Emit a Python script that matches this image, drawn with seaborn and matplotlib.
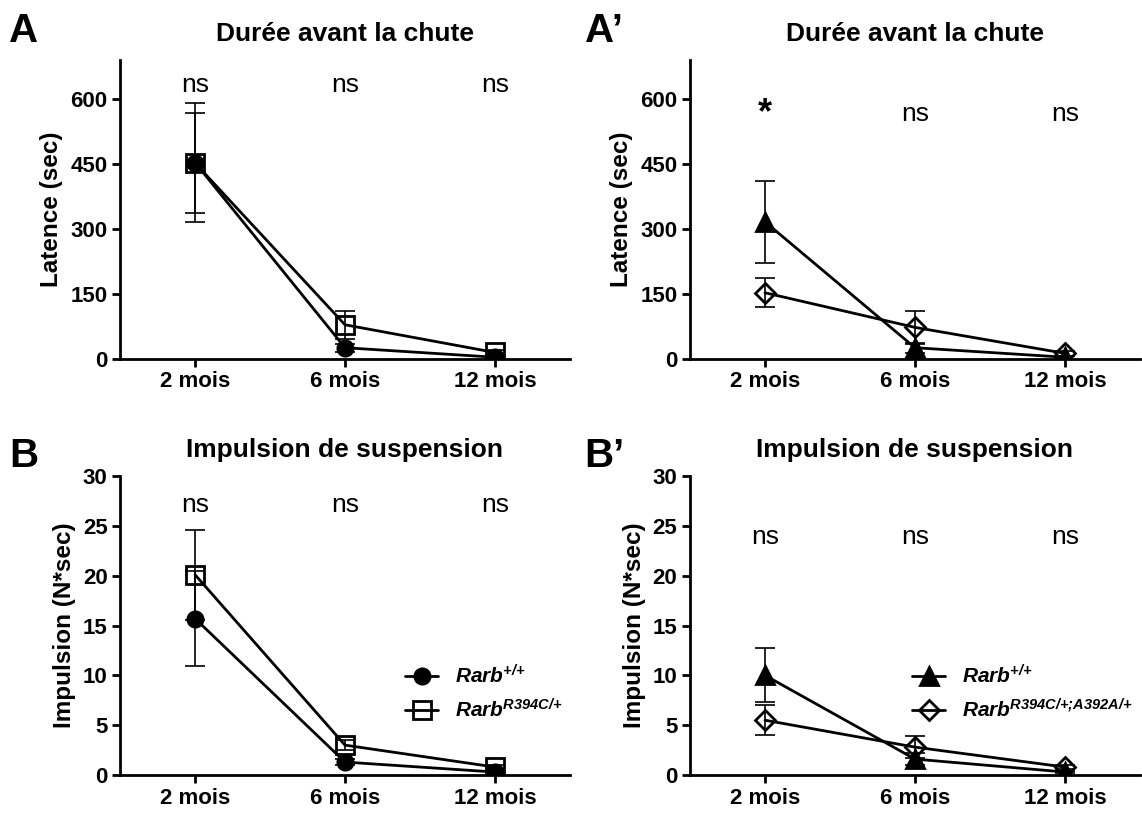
import numpy as np
import pandas as pd
import matplotlib
matplotlib.use("Agg")
import matplotlib.pyplot as plt
import seaborn as sns

# Données (moyenne ± SEM)
mois = ["2 mois", "6 mois", "12 mois"]

a_wt = [453, 25, 3]
a_wt_err = [137, 9, 3]
a_mut = [452, 78, 14]
a_mut_err = [116, 32, 5]

ap_wt = [316, 25, 3]
ap_wt_err = [95, 12, 3]
ap_mut = [152, 72, 12]
ap_mut_err = [33, 38, 5]

b_wt = [15.7, 1.3, 0.3]
b_wt_err = [4.8, 0.3, 0.1]
b_mut = [20.1, 3.0, 0.8]
b_mut_err = [4.5, 0.5, 0.2]

bp_wt = [10.0, 1.6, 0.3]
bp_wt_err = [2.7, 0.6, 0.1]
bp_mut = [5.5, 2.8, 0.8]
bp_mut_err = [1.5, 1.1, 0.2]

sig_a = ["ns", "ns", "ns"]
sig_ap = ["*", "ns", "ns"]
sig_b = ["ns", "ns", "ns"]
sig_bp = ["ns", "ns", "ns"]

lab_wt = r"$\text{Rarb}^{\text{+/+}}$"
lab_mut = r"$\text{Rarb}^{\text{R394C/+}}$"
lab_mut2 = r"$\text{Rarb}^{\text{R394C/+;A392A/+}}$"

sns.set_style("ticks")
plt.rcParams["font.family"] = ["Liberation Sans", "DejaVu Sans"]
plt.rcParams["mathtext.fontset"] = "custom"
plt.rcParams["mathtext.rm"] = "Liberation Sans:italic:bold"
plt.rcParams["mathtext.it"] = "Liberation Sans:italic:bold"
plt.rcParams["mathtext.bf"] = "Liberation Sans:italic:bold"
for k in ["text.color", "axes.labelcolor", "xtick.color", "ytick.color",
          "axes.edgecolor"]:
    plt.rcParams[k] = "black"

fig = plt.figure(figsize=(11.42, 8.13), dpi=100)
ax_a = fig.add_axes([0.1051, 0.559, 0.394, 0.3672])
ax_ap = fig.add_axes([0.6042, 0.559, 0.394, 0.3672])
ax_b = fig.add_axes([0.1051, 0.0467, 0.394, 0.3678])
ax_bp = fig.add_axes([0.6042, 0.0467, 0.394, 0.3678])

x = np.arange(len(mois))


def serie(ax, vals, errs, marker, filled, ms, label):
    df = pd.DataFrame({"x": x, "y": vals})
    ax.errorbar(x, vals, yerr=errs, fmt="none", ecolor="black",
                elinewidth=1.2, capsize=7, capthick=1.2, zorder=2)
    sns.lineplot(data=df, x="x", y="y", ax=ax, color="black", lw=2,
                 marker=marker, markersize=ms, markeredgewidth=2,
                 markeredgecolor="black",
                 markerfacecolor="black" if filled else "none",
                 label=label, zorder=3)


def habillage(ax, ylim, yticks, ylabel, titre, sig, sig_y):
    ax.set_xlim(-0.5, 2.5)
    ax.set_ylim(*ylim)
    ax.set_yticks(yticks)
    ax.set_xticks(x)
    ax.set_xticklabels(mois)
    for lab in ax.get_xticklabels() + ax.get_yticklabels():
        lab.set_fontweight("bold")
        lab.set_fontsize(16)
    ax.set_xlabel("")
    ax.set_ylabel(ylabel, fontsize=17.5, fontweight="bold", labelpad=5)
    ax.set_title(titre, fontsize=19, fontweight="bold", pad=14)
    sns.despine(ax=ax)
    for s in ["left", "bottom"]:
        ax.spines[s].set_linewidth(2)
    ax.tick_params(width=2, length=6, pad=3)
    for i, t in enumerate(sig):
        if t == "*":
            ax.text(x[i], sig_y, t, ha="center", va="center", fontsize=26,
                    fontweight="bold")
        else:
            ax.text(x[i], sig_y, t, ha="center", va="center", fontsize=19)


serie(ax_a, a_wt, a_wt_err, "o", True, 11, lab_wt)
serie(ax_a, a_mut, a_mut_err, "s", False, 13, lab_mut)
habillage(ax_a, (0, 690), [0, 150, 300, 450, 600], "Latence (sec)",
          "Durée avant la chute", sig_a, 632)

serie(ax_ap, ap_wt, ap_wt_err, "^", True, 13, lab_wt)
serie(ax_ap, ap_mut, ap_mut_err, "D", False, 10, lab_mut2)
habillage(ax_ap, (0, 690), [0, 150, 300, 450, 600], "Latence (sec)",
          "Durée avant la chute", sig_ap, 565)

serie(ax_b, b_wt, b_wt_err, "o", True, 11, lab_wt)
serie(ax_b, b_mut, b_mut_err, "s", False, 13, lab_mut)
habillage(ax_b, (0, 30), [0, 5, 10, 15, 20, 25, 30], "Impulsion (N*sec)",
          "Impulsion de suspension", sig_b, 27.1)

serie(ax_bp, bp_wt, bp_wt_err, "^", True, 13, lab_wt)
serie(ax_bp, bp_mut, bp_mut_err, "D", False, 10, lab_mut2)
habillage(ax_bp, (0, 30), [0, 5, 10, 15, 20, 25, 30], "Impulsion (N*sec)",
          "Impulsion de suspension", sig_bp, 23.9)

ax_a.get_legend().remove()
ax_ap.get_legend().remove()
ax_b.legend(loc="upper left", bbox_to_anchor=(0.61, 0.405), frameon=False,
            fontsize=15, handlelength=1.6, handletextpad=0.8,
            labelspacing=0.5, borderpad=0)
ax_bp.legend(loc="upper left", bbox_to_anchor=(0.47, 0.405), frameon=False,
             fontsize=15, handlelength=1.6, handletextpad=0.8,
             labelspacing=0.5, borderpad=0)

for lettre, px, py in [("A", 0.008, 0.985), ("A\u2019", 0.512, 0.985),
                       ("B", 0.008, 0.462), ("B\u2019", 0.512, 0.462)]:
    fig.text(px, py, lettre, fontsize=29, fontweight="bold", va="top")

fig.savefig("out.png", dpi=100)
